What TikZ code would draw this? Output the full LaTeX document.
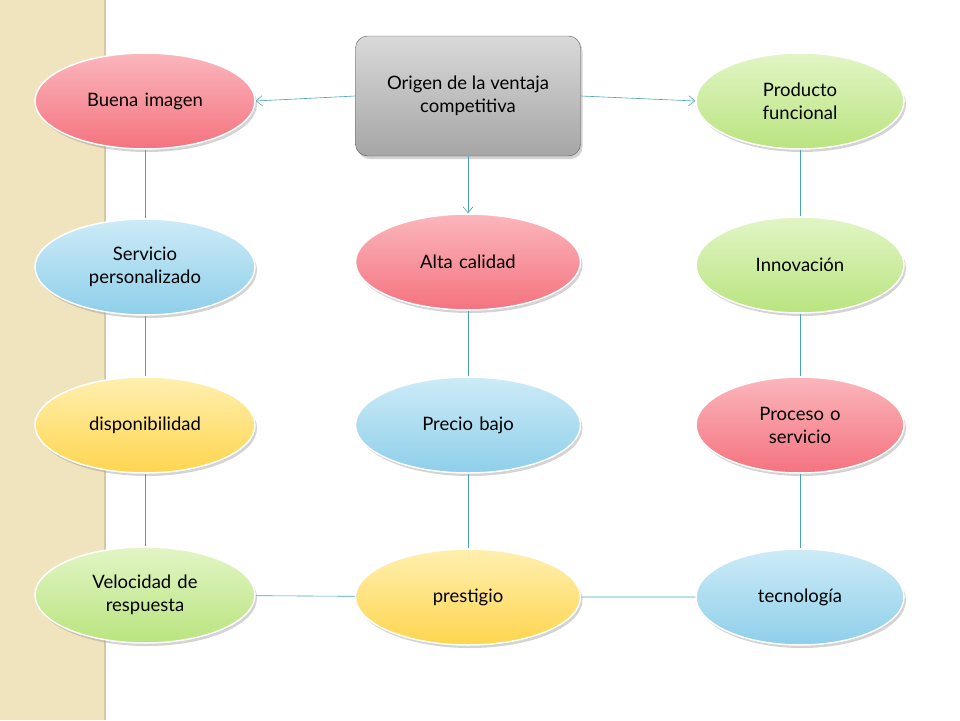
\documentclass[tikz,border=0pt]{standalone}
\usepackage{fontspec}
\setmainfont{Lato}
\usetikzlibrary{shapes.geometric,shadows,arrows.meta}
\definecolor{rojo}{HTML}{F4737F}
\definecolor{rojoc}{HTML}{FBB6BC}
\definecolor{azul}{HTML}{8ECFEA}
\definecolor{azulc}{HTML}{CDEBF7}
\definecolor{amar}{HTML}{FFD54F}
\definecolor{amarc}{HTML}{FFF0B0}
\definecolor{verde}{HTML}{B9E47E}
\definecolor{verdec}{HTML}{E2F5C6}
\definecolor{linea}{HTML}{4AA3B8}
\tikzset{
  oval/.style={ellipse, draw=white, line width=1.5pt, minimum width=220pt, minimum height=96pt,
    align=center, font=\fontsize{18.5}{23}\selectfont, text width=125pt, inner sep=0pt,
    drop shadow={shadow xshift=2pt, shadow yshift=-3pt, opacity=0.35}},
  rojoel/.style={oval, top color=rojoc, bottom color=rojo},
  azulel/.style={oval, top color=azulc, bottom color=azul},
  amarel/.style={oval, top color=amarc, bottom color=amar},
  verdeel/.style={oval, top color=verdec, bottom color=verde},
  conn/.style={draw=linea, line width=0.6pt},
  flecha/.style={conn, -{Straight Barb[length=6pt,width=10pt]}}
}
\begin{document}
\begin{tikzpicture}[x=1pt,y=-1pt]
\useasboundingbox (0,0) rectangle (960,720);
% franja lateral
\fill[color={rgb,255:red,240;green,228;blue,190}] (0,0) rectangle (105,720);
\draw[color={rgb,255:red,215;green,200;blue,160}, line width=2pt] (105,0) -- (105,720);
% nodos
\node[rectangle, rounded corners=12pt, draw=gray!70!black, minimum width=225pt, minimum height=120pt,
  top color=gray!30, bottom color=gray!70, align=center, font=\fontsize{18.5}{23}\selectfont,
  drop shadow={shadow xshift=2pt, shadow yshift=-3pt, opacity=0.35}] (origen) at (468,96)
  {Origen de la ventaja\\competitiva};
\node[rojoel] (imagen) at (145,101) {Buena imagen};
\node[verdeel, minimum width=208pt] (producto) at (800,101) {Producto\\funcional};
\node[azulel] (servicio) at (145,267) {Servicio\\personalizado};
\node[rojoel, minimum width=225pt] (calidad) at (468,262) {Alta calidad};
\node[verdeel, minimum width=208pt] (innovacion) at (800,265) {Innovación};
\node[amarel] (dispo) at (145,425) {disponibilidad};
\node[azulel, minimum width=225pt] (precio) at (468,425) {Precio bajo};
\node[rojoel, minimum width=208pt] (proceso) at (800,425) {Proceso o\\servicio};
\node[verdeel] (velocidad) at (145,595) {Velocidad de\\respuesta};
\node[amarel, minimum width=225pt] (prestigio) at (468,597) {prestigio};
\node[azulel, minimum width=208pt] (tecno) at (800,597) {tecnología};
% conexiones
\draw[flecha] (origen.west) -- (imagen.east);
\draw[flecha] (origen.east) -- (producto.west);
\draw[flecha] (origen.south) -- (calidad.north);
\draw[conn] (imagen) -- (servicio) -- (dispo) -- (velocidad);
\draw[conn] (calidad) -- (precio) -- (prestigio);
\draw[conn] (producto) -- (innovacion) -- (proceso) -- (tecno);
\draw[conn] (velocidad) -- (prestigio) -- (tecno);
\end{tikzpicture}
\end{document}
